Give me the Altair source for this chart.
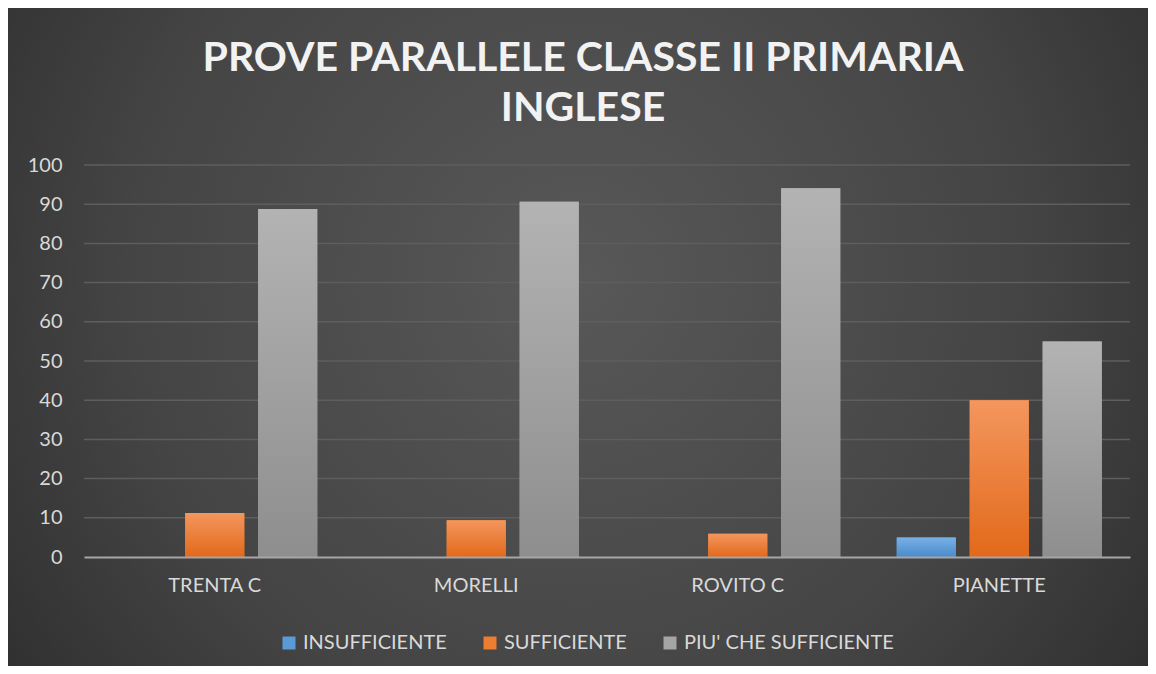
import altair as alt
import pandas as pd

categories = ["TRENTA C", "MORELLI", "ROVITO C", "PIANETTE"]
series = ["INSUFFICIENTE", "SUFFICIENTE", "PIU' CHE SUFFICIENTE"]
insufficiente = [0, 0, 0, 5]
sufficiente = [11.2, 9.4, 5.9, 40]
piu_che_sufficiente = [88.8, 90.6, 94.1, 55]
y_ticks = [0, 10, 20, 30, 40, 50, 60, 70, 80, 90, 100]
grid_values = [10, 20, 30, 40, 50, 60, 70, 80, 90, 100]
colors = ["#5B9BD5", "#ED7D31", "#A5A5A5"]
grad_tops = ["#78B1E6", "#F4965E", "#B3B3B3"]
grad_bottoms = ["#4A8BCB", "#E2691A", "#8E8E8E"]

rows = []
for i, c in enumerate(categories):
    for s, vals in zip(series, [insufficiente, sufficiente, piu_che_sufficiente]):
        rows.append({"classe": c, "serie": s, "valore": vals[i]})
df = pd.DataFrame(rows)
grid_df = pd.DataFrame({"valore": grid_values})

W, H = 1046, 392
PL, PT, PR, PB = 76, 157, 18, 109
FONT = "Lato"
LABEL = "#D9D9D9"

x_enc = alt.X("classe:N", sort=categories,
              scale=alt.Scale(paddingInner=0.216, paddingOuter=0.108),
              axis=alt.Axis(title=None, labelAngle=0, labelFontSize=20, labelColor=LABEL,
                            labelFont=FONT, ticks=False, domain=True, domainColor="#A6A6A6",
                            domainWidth=2, labelPadding=18, grid=False, zindex=1))
xo_enc = alt.XOffset("serie:N", scale=alt.Scale(domain=series, paddingInner=0.19, paddingOuter=0))
y_axis = alt.Axis(title=None, values=y_ticks, labelFontSize=20, labelColor=LABEL,
                  labelFont=FONT, ticks=False, domain=False, grid=False,
                  labelPadding=22, zindex=1)
y_enc = alt.Y("valore:Q", scale=alt.Scale(domain=[0, 100], nice=False), axis=y_axis)

bg = alt.Chart(pd.DataFrame({"k": [0]})).mark_rect(
    fill={"gradient": "radial", "x1": 0.5, "y1": 0.45, "r1": 0, "x2": 0.5, "y2": 0.45, "r2": 0.72,
          "stops": [{"offset": 0, "color": "#585858"}, {"offset": 0.55, "color": "#444444"},
                    {"offset": 1, "color": "#262626"}]}
).encode(x=alt.value(-PL), x2=alt.value(W + PR), y=alt.value(-PT), y2=alt.value(H + PB))

grid = alt.Chart(grid_df).mark_rule(color="#5E5E5E", strokeWidth=1.5).encode(y=y_enc)

bars = alt.Chart(df).mark_bar().encode(
    x=x_enc, xOffset=xo_enc, y=y_enc,
    color=alt.Color("serie:N", scale=alt.Scale(domain=series, range=colors),
                    legend=alt.Legend(title=None, orient="none", legendX=195, legendY=468,
                                      direction="horizontal", symbolType="square",
                                      symbolSize=169, symbolStrokeWidth=0,
                                      labelFontSize=20, labelColor=LABEL, labelFont=FONT,
                                      labelOffset=4, columnPadding=33, labelLimit=400))
)

overlays = []
for s, t, b in zip(series, grad_tops, grad_bottoms):
    overlays.append(
        alt.Chart(df).transform_filter(alt.datum.serie == s).mark_bar(
            fill={"gradient": "linear", "x1": 0, "y1": 0, "x2": 0, "y2": 1,
                  "stops": [{"offset": 0, "color": t}, {"offset": 1, "color": b}]}
        ).encode(x=x_enc, xOffset=xo_enc, y=y_enc)
    )

chart = alt.layer(bg, grid, bars, *overlays).properties(
    width=W, height=H,
    autosize=alt.AutoSizeParams(type="none"),
    padding={"left": PL, "top": PT, "right": PR, "bottom": PB},
    background="#333333",
    title=alt.TitleParams(["PROVE PARALLELE CLASSE II PRIMARIA", "INGLESE"],
                          font=FONT, fontSize=41, fontWeight="bold", color="#F2F2F2",
                          anchor="middle", frame="group", dx=-24, lineHeight=50, offset=-122),
).configure_view(stroke=None)

chart.save("out.html", embed_options={"renderer": "svg", "actions": False})
